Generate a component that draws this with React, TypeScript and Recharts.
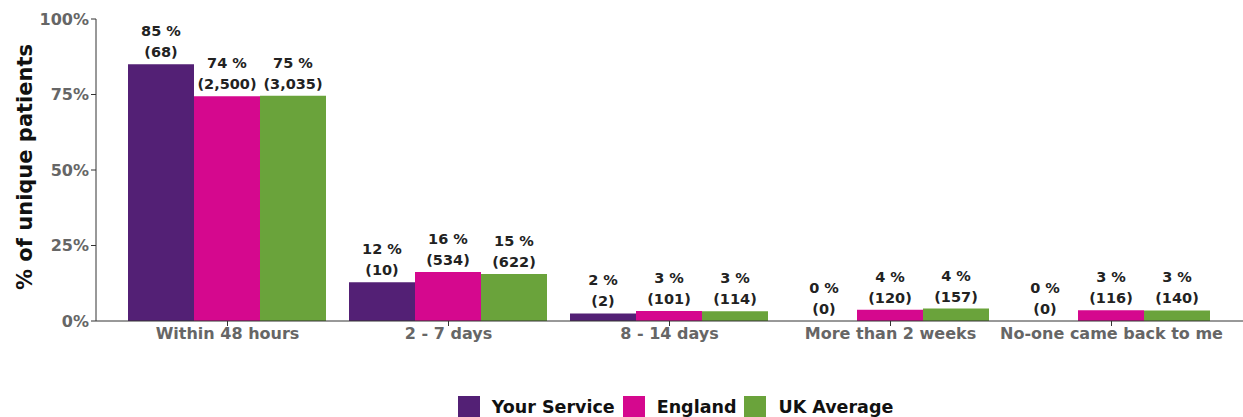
import { BarChart, Bar, XAxis, YAxis, Rectangle } from 'recharts'

const categories = ['Within 48 hours', '2 - 7 days', '8 - 14 days', 'More than 2 weeks', 'No-one came back to me']
const serviceValues = [85, 12.8, 2.5, 0, 0]
const englandValues = [74.4, 16.2, 3.3, 3.7, 3.6]
const ukValues = [74.6, 15.6, 3.2, 4.1, 3.5]
const servicePct = [85, 12, 2, 0, 0]
const englandPct = [74, 16, 3, 4, 3]
const ukPct = [75, 15, 3, 4, 3]
const serviceCount = ['68', '10', '2', '0', '0']
const englandCount = ['2,500', '534', '101', '120', '116']
const ukCount = ['3,035', '622', '114', '157', '140']
const yTicks = [0, 25, 50, 75, 100]

const FONT = '"DejaVu Sans", sans-serif'
const PURPLE = '#532075'
const PINK = '#d5088e'
const GREEN = '#6aa33b'

const data = categories.map((name, i) => ({
  name,
  service: serviceValues[i],
  england: englandValues[i],
  uk: ukValues[i],
  serviceLbl: `${servicePct[i]} %|(${serviceCount[i]})`,
  englandLbl: `${englandPct[i]} %|(${englandCount[i]})`,
  ukLbl: `${ukPct[i]} %|(${ukCount[i]})`,
}))

// bar rect plus its two-line label, so zero-height bars still get a label
const labelledShape = (key: string) => (props: any) => {
  const { x, y, width, height, fill, payload } = props
  const [a, b] = String(payload[key]).split('|')
  const cx = x + width / 2
  const top = height >= 0 ? y : y + height
  return (
    <g>
      {Math.abs(height) > 0 && <Rectangle x={x} y={y} width={width} height={height} fill={fill} />}
      <text x={cx} y={top - 28} textAnchor="middle" fontSize={14.5} fontWeight="bold" fill="#222" fontFamily={FONT}>{a}</text>
      <text x={cx} y={top - 7} textAnchor="middle" fontSize={14.5} fontWeight="bold" fill="#222" fontFamily={FONT}>{b}</text>
    </g>
  )
}

const items = [
  { label: 'Your Service', color: PURPLE },
  { label: 'England', color: PINK },
  { label: 'UK Average', color: GREEN },
]

export default function App() {
  return (
    <div style={{ position: 'absolute', left: 0, top: 0, width: 1243, height: 417, background: '#fff' }}>
      <BarChart width={1243} height={417} data={data} margin={{ top: 19, right: 0, left: 0, bottom: 66 }}
        barCategoryGap={11} barGap={0}>
        <XAxis dataKey="name" padding={{ left: 21, right: 21 }} stroke="#333" tickSize={5}
          tick={{ fontSize: 16, fontWeight: 'bold', fill: '#666', fontFamily: FONT }} interval={0} height={30} />
        <YAxis domain={[0, 100]} ticks={yTicks} tickFormatter={(v: number) => `${v}%`} width={96} stroke="#333" tickSize={5}
          tick={{ fontSize: 16, fontWeight: 'bold', fill: '#666', fontFamily: FONT }}
          label={{ value: '% of unique patients', angle: -90, position: 'insideLeft', dx: 20, dy: 120,
            style: { fontSize: 21, fontWeight: 'bold', fill: '#111', fontFamily: FONT } }} />
        <Bar dataKey="service" fill={PURPLE} isAnimationActive={false} shape={labelledShape('serviceLbl')} />
        <Bar dataKey="england" fill={PINK} isAnimationActive={false} shape={labelledShape('englandLbl')} />
        <Bar dataKey="uk" fill={GREEN} isAnimationActive={false} shape={labelledShape('ukLbl')} />
      </BarChart>
      <div style={{ position: 'absolute', left: 0, top: 396, width: 1243, display: 'flex', justifyContent: 'center',
        alignItems: 'center', fontFamily: FONT, fontWeight: 'bold', fontSize: 17.5, color: '#111', paddingLeft: 116, boxSizing: 'border-box' }}>
        {items.map(it => (
          <span key={it.label} style={{ display: 'flex', alignItems: 'center', marginRight: 8 }}>
            <span style={{ display: 'inline-block', width: 22, height: 22, background: it.color, marginRight: 12 }} />
            {it.label}
          </span>
        ))}
      </div>
    </div>
  )
}
